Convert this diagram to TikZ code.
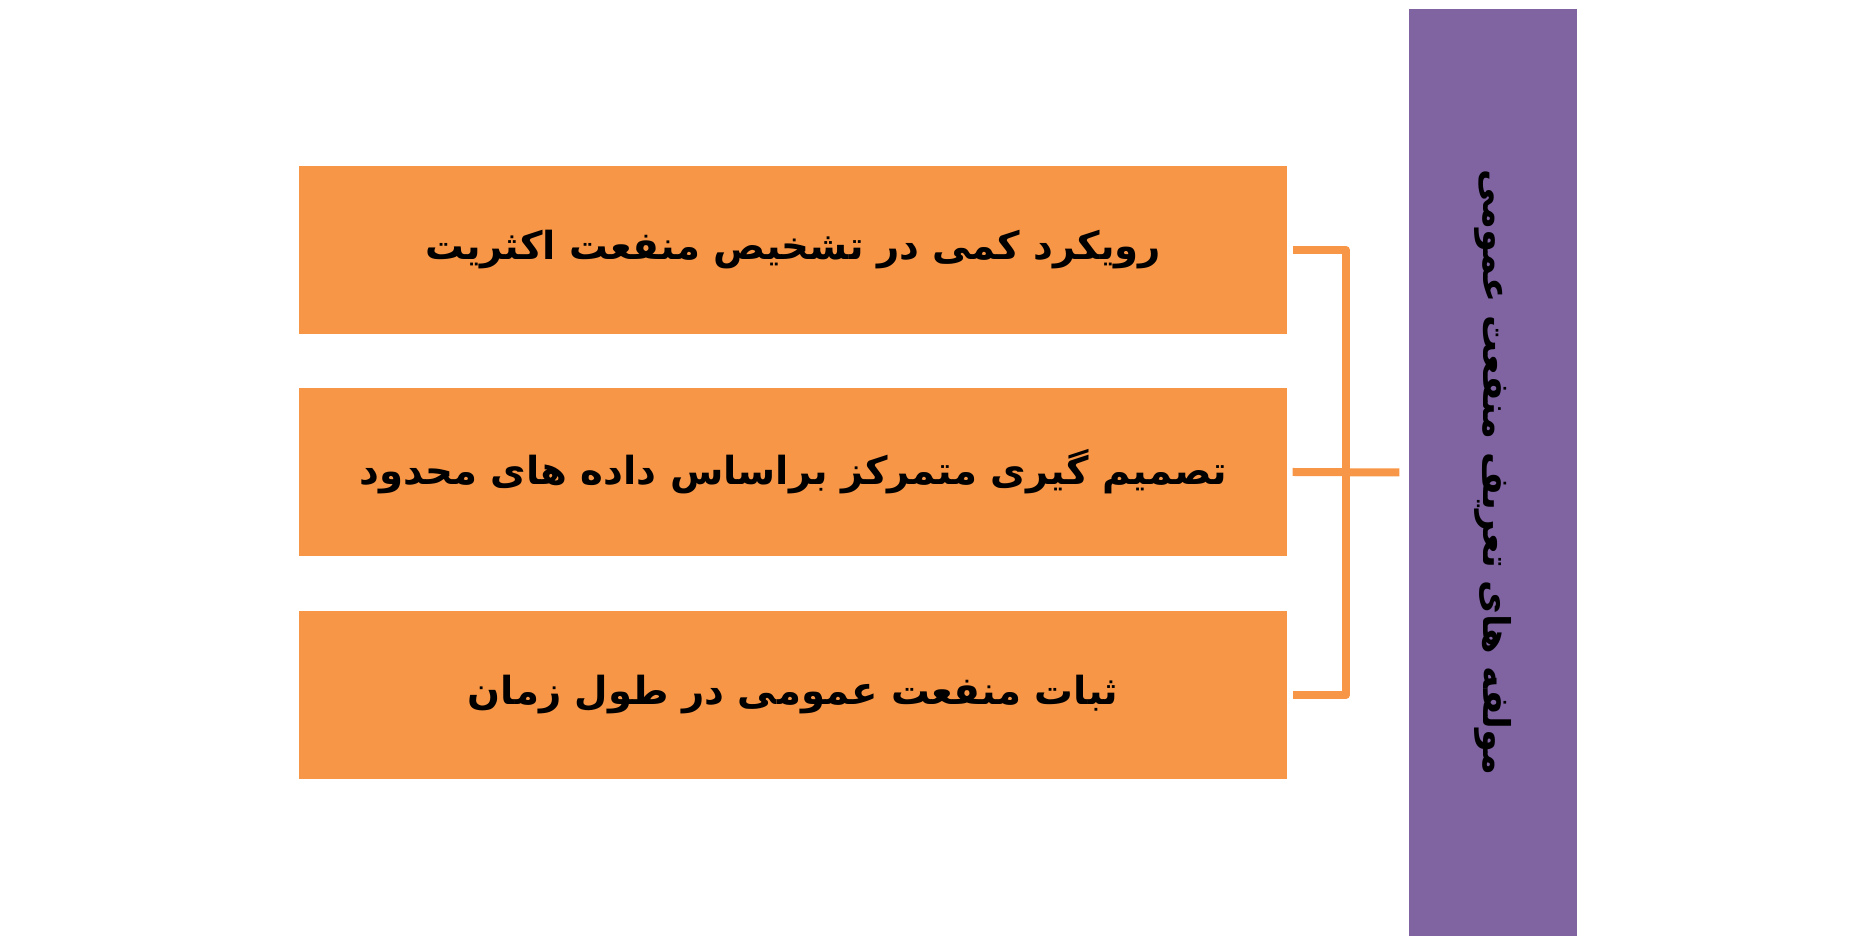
\documentclass[tikz,border=0pt]{standalone}
\usepackage{fontspec}
\usepackage{xcolor}
\usepackage{tikz}
\usetikzlibrary{positioning}
\TeXXeTstate=1
\newfontfamily\arabicfont[Script=Arabic]{DejaVu Sans}

\definecolor{naranja}{HTML}{F79646}
\definecolor{morado}{HTML}{8064A2}

\tikzset{
    itembox/.style={fill=naranja, minimum width=9.88cm, minimum height=1.68cm,
        inner sep=0pt, font=\arabicfont\bfseries\fontsize{11}{13}\selectfont},
    mainbox/.style={fill=morado, minimum width=1.68cm, minimum height=9.27cm,
        inner sep=0pt},
    link/.style={draw=naranja, line width=0.08cm, line join=round}
}

\begin{document}
\begin{tikzpicture}
        \useasboundingbox (0,0) rectangle (18.73,9.41);

        % Cajas de los componentes
        \node[itembox] (b1) at (7.93,6.91) {\beginR رویکرد کمی در تشخیص منفعت اکثریت\endR};
        \node[itembox] (b2) at (7.93,4.69) {\beginR تصمیم گیری متمرکز براساس داده های محدود\endR};
        \node[itembox] (b3) at (7.93,2.46) {\beginR ثبات منفعت عمومی در طول زمان\endR};

        % Caja principal
        \node[mainbox] (main) at (14.93,4.685) {};
        \node[rotate=-90, font=\arabicfont\bfseries\fontsize{10.5}{12}\selectfont] (title) at (main.center) {\beginR مولفه های تعریف منفعت عمومی\endR};

        % Conexiones
        \coordinate (jt) at (13.46,6.91);
        \coordinate (jb) at (13.46,2.46);
        \draw[link] ([xshift=0.05cm]b1.east) -- (jt) -- (jb) -- ([xshift=0.05cm]b3.east);
        \draw[link] ([xshift=0.05cm]b2.east) -- ([xshift=-0.09cm]main.west);
    \end{tikzpicture}
\end{document}
